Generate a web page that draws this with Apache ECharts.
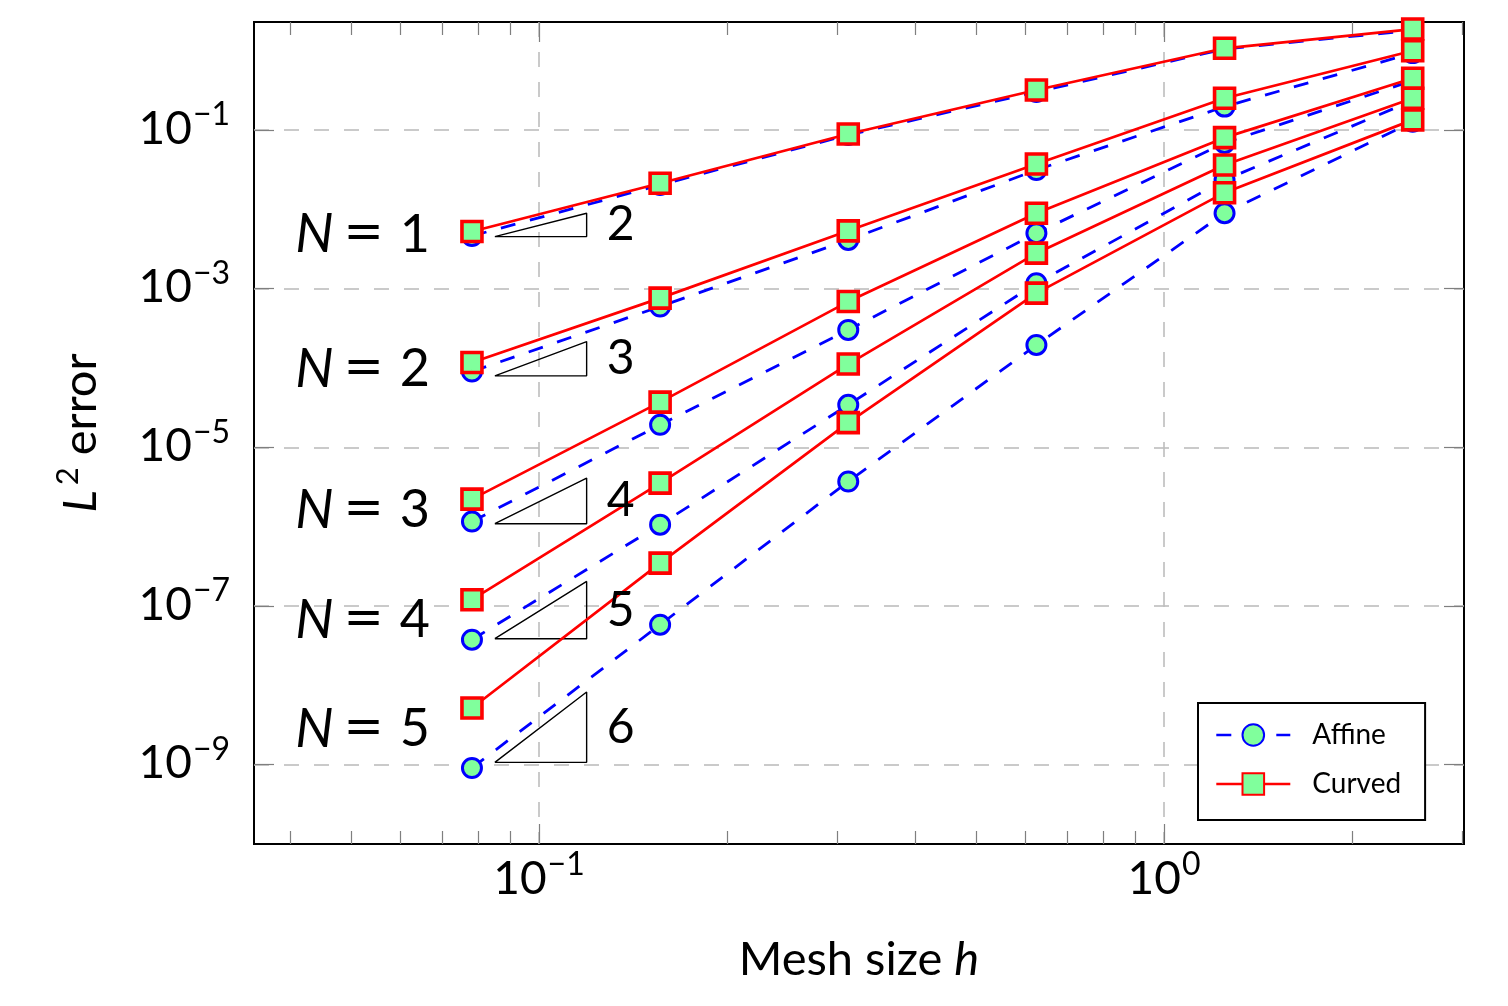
<!DOCTYPE html>
<html>
<head>
<meta charset="utf-8">
<title>L2 error vs mesh size</title>
<script src="https://cdn.jsdelivr.net/npm/echarts@6/dist/echarts.min.js"></script>
<style>
  html, body { margin: 0; padding: 0; background: #fff; }
  #chart { width: 1508px; height: 1006px; }
</style>
</head>
<body>
<div id="chart"></div>
<script>
// mesh size h
const meshSize = [0.078125, 0.15625, 0.3125, 0.625, 1.25, 2.5];
const degrees = [1, 2, 3, 4, 5];

// L2 error, one row per degree N (same order as meshSize)
const affineError = [
  [4.62e-3, 2.03e-2, 8.65e-2, 0.301, 1.05, 1.8],
  [9.02e-5, 5.94e-4, 4.11e-3, 3.13e-2, 0.197, 0.93],
  [1.16e-6, 1.92e-5, 3.02e-4, 5.0e-3, 6.86e-2, 0.42],
  [3.76e-8, 1.06e-6, 3.43e-5, 1.17e-3, 2.34e-2, 0.235],
  [9.08e-10, 5.81e-8, 3.71e-6, 1.95e-4, 8.93e-3, 0.127]
];
const curvedError = [
  [5.24e-3, 2.13e-2, 8.9e-2, 0.319, 1.07, 1.87],
  [1.17e-4, 7.59e-4, 5.35e-3, 3.73e-2, 0.251, 0.997],
  [2.22e-6, 3.71e-5, 6.87e-4, 8.93e-3, 8.0e-2, 0.448],
  [1.2e-7, 3.54e-6, 1.12e-4, 2.8e-3, 3.62e-2, 0.251],
  [5.18e-9, 3.47e-7, 2.05e-5, 8.77e-4, 1.62e-2, 0.134]
];

// ticks
const xMajorTicks = [0.1, 1];
const xMinorTicks = [0.04, 0.05, 0.06, 0.07, 0.08, 0.09, 0.2, 0.3, 0.4, 0.5, 0.6, 0.7, 0.8, 0.9, 2, 3];
const yMajorTicks = [1e-9, 1e-7, 1e-5, 1e-3, 1e-1];

// slope triangles: [h left, h right, error bottom, error top]
const slopeTriangles = [
  [0.085, 0.1192, 4.53e-3, 8.93e-3],
  [0.085, 0.1192, 7.96e-5, 2.15e-4],
  [0.085, 0.1192, 1.09e-6, 4.09e-6],
  [0.085, 0.1192, 3.87e-8, 2.04e-7],
  [0.085, 0.1192, 1.07e-9, 8.24e-9]
];
const slopeOrders = [2, 3, 4, 5, 6];

// height of the "N = k" labels, next to the first point
const degreeLabelY = [4.75e-3, 9.6e-5, 1.6e-6, 6.6e-8, 2.8e-9];

const FONT = 'Lato';
const GRID_GRAY = '#bdbdbd';
const TICK_GRAY = '#7f7f7f';

// "10^k" labels
const powLabel = (v) => {
  const e = Math.round(Math.log10(v));
  return '{b|10}{s|' + (e < 0 ? '\u2212' + (-e) : e) + '}';
};
const powRich = {
  b: { fontFamily: FONT, fontSize: 46, lineHeight: 44, verticalAlign: 'bottom', color: '#000' },
  s: { fontFamily: FONT, fontSize: 32, lineHeight: 30, verticalAlign: 'bottom', padding: [0, 0, 21, 1], color: '#000' }
};

const xRange = { type: 'log', min: 0.035, max: 3.02 };
const yRange = { type: 'log', min: 1e-10, max: 2.295 };
const bare = {
  axisLine: { show: false },
  splitLine: { show: false },
  axisLabel: { show: false },
  minorTick: { show: false },
  minorSplitLine: { show: false }
};
const ticks = (values, len) => ({
  show: true, inside: true, length: len, customValues: values,
  lineStyle: { color: TICK_GRAY, width: 1.2 }
});

const xAxis = [
  Object.assign({}, xRange, bare, {
    position: 'bottom',
    axisTick: ticks(xMajorTicks, 20),
    axisLabel: { show: true, customValues: xMajorTicks, formatter: powLabel, rich: powRich, margin: 14 },
    splitLine: { show: true, lineStyle: { color: GRID_GRAY, width: 1.6, type: [15, 15] } },
    name: '{t|Mesh size }{i|h}',
    nameLocation: 'middle',
    nameGap: 91,
    nameTextStyle: {
      rich: {
        t: { fontFamily: FONT, fontSize: 47, lineHeight: 50, color: '#000' },
        i: { fontFamily: FONT, fontSize: 47, lineHeight: 50, fontStyle: 'italic', color: '#000' }
      }
    }
  }),
  Object.assign({}, xRange, bare, { position: 'bottom', axisTick: ticks(xMinorTicks, 13) }),
  Object.assign({}, xRange, bare, { position: 'top', axisTick: ticks(xMajorTicks, 20) }),
  Object.assign({}, xRange, bare, { position: 'top', axisTick: ticks(xMinorTicks, 13) })
];

const yAxis = [
  Object.assign({}, yRange, bare, {
    position: 'left',
    axisTick: ticks(yMajorTicks, 20),
    axisLabel: { show: true, customValues: yMajorTicks, formatter: powLabel, rich: powRich, margin: 24 },
    splitLine: { show: true, lineStyle: { color: GRID_GRAY, width: 1.6, type: [15, 15] } },
    name: '{i|L}{s|2}{t| error}',
    nameLocation: 'middle',
    nameGap: 150,
    nameRotate: 90,
    nameTextStyle: {
      rich: {
        i: { fontFamily: FONT, fontSize: 47, lineHeight: 50, fontStyle: 'italic', verticalAlign: 'bottom', color: '#000' },
        s: { fontFamily: FONT, fontSize: 31, lineHeight: 30, verticalAlign: 'bottom', padding: [0, 0, 21, 5], color: '#000' },
        t: { fontFamily: FONT, fontSize: 47, lineHeight: 50, verticalAlign: 'bottom', color: '#000' }
      }
    }
  }),
  Object.assign({}, yRange, bare, { position: 'right', axisTick: ticks(yMajorTicks, 20) })
];

const series = [];

degrees.forEach((n, i) => {
  series.push({
    name: 'Affine',
    type: 'line',
    data: meshSize.map((h, j) => [h, affineError[i][j]]),
    symbol: 'circle',
    symbolSize: 19,
    z: 3,
    lineStyle: { color: '#0000ff', width: 2.8, type: [15, 15] },
    itemStyle: { color: '#80ff9c', borderColor: '#0000ff', borderWidth: 3 }
  });
});

degrees.forEach((n, i) => {
  series.push({
    name: 'Curved',
    type: 'line',
    data: meshSize.map((h, j) => [h, curvedError[i][j]]),
    symbol: 'rect',
    symbolSize: 20,
    z: 4,
    lineStyle: { color: '#ff0000', width: 2.7 },
    itemStyle: { color: '#80ff9c', borderColor: '#ff0000', borderWidth: 3.6 }
  });
});

// slope triangles
slopeTriangles.forEach((t) => {
  series.push({
    name: 'slope',
    type: 'line',
    data: [[t[0], t[2]], [t[1], t[2]], [t[1], t[3]], [t[0], t[2]]],
    symbol: 'none',
    z: 2,
    lineStyle: { color: '#000', width: 1.4 }
  });
});

// order next to each triangle
series.push({
  name: 'order',
  type: 'scatter',
  symbol: 'circle',
  symbolSize: 0.1,
  z: 5,
  itemStyle: { color: '#000', opacity: 1 },
  data: slopeTriangles.map((t, i) => ({
    value: [t[1], Math.sqrt(t[2] * t[3])],
    label: { formatter: String(slopeOrders[i]) }
  })),
  label: { show: true, position: 'right', distance: 20, fontFamily: FONT, fontSize: 48, color: '#000' }
});

// "N = k" labels
series.push({
  name: 'degree',
  type: 'scatter',
  symbol: 'circle',
  symbolSize: 0.1,
  z: 5,
  itemStyle: { color: '#000', opacity: 1 },
  data: degrees.map((n, i) => ({
    value: [meshSize[0], degreeLabelY[i]],
    label: { formatter: '{n|N}{e|=}{d|' + n + '}' }
  })),
  label: {
    show: true, position: 'left', distance: 42, color: '#000',
    rich: {
      n: { fontFamily: FONT, fontSize: 54, fontStyle: 'italic', color: '#000' },
      e: { fontFamily: 'DejaVu Sans', fontSize: 48, padding: [0, 16, 0, 10], color: '#000' },
      d: { fontFamily: FONT, fontSize: 52, color: '#000' }
    }
  }
});

series.forEach((s) => {
  s.animation = false;
  s.silent = true;
  s.emphasis = { disabled: true };
});

const chart = echarts.init(document.getElementById('chart'), null, { renderer: 'canvas' });
chart.setOption({
  animation: false,
  textStyle: { fontFamily: FONT },
  grid: {
    left: 254, top: 22, right: 44, bottom: 162,
    show: true, borderColor: '#000', borderWidth: 2, backgroundColor: 'transparent'
  },
  legend: {
    data: ['Affine', 'Curved'],
    orient: 'vertical',
    left: 1198,
    top: 703,
    itemWidth: 74,
    itemHeight: 27,
    itemGap: 21,
    padding: [18, 24, 22, 17],
    backgroundColor: '#fff',
    borderColor: '#000',
    borderWidth: 2,
    borderRadius: 0,
    selectedMode: false,
    lineStyle: { width: 2.6 },
    textStyle: { fontFamily: FONT, fontSize: 28, color: '#000', padding: [0, 0, 0, 17] }
  },
  xAxis: xAxis,
  yAxis: yAxis,
  series: series
});
</script>
</body>
</html>
